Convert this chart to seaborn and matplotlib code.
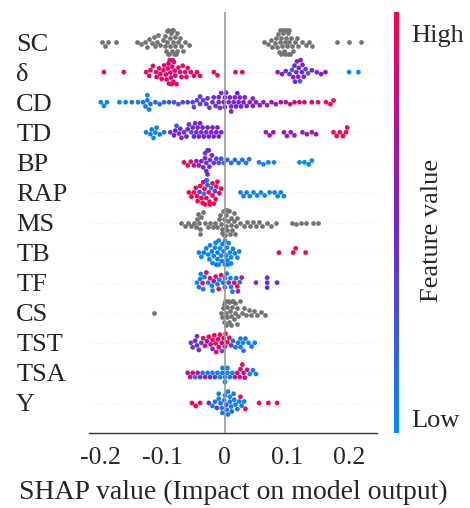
import numpy as np
import pandas as pd
import seaborn as sns
import matplotlib
matplotlib.use("Agg")
import matplotlib.pyplot as plt
from matplotlib.colors import LinearSegmentedColormap, Normalize
from matplotlib.cm import ScalarMappable

# ---------------- data ----------------
features = ["SC", "δ", "CD", "TD", "BP", "RAP", "MS", "TB", "TF", "CS", "TST", "TSA", "Y"]

sc_shap = [-0.198, -0.193, -0.188, -0.176,
           -0.142, -0.135, -0.128, -0.122, -0.118, -0.112, -0.108, -0.104, -0.100, -0.097,
           -0.095, -0.093, -0.091, -0.089, -0.087, -0.085, -0.083, -0.081, -0.079, -0.077,
           -0.075, -0.072, -0.068, -0.064, -0.058,
           -0.096, -0.092, -0.088, -0.084, -0.080, -0.086, -0.090, -0.094, -0.082, -0.078,
           -0.070, -0.110, -0.115, -0.125,
           0.063, 0.070, 0.076, 0.080, 0.084, 0.087, 0.089, 0.091, 0.093, 0.095, 0.097,
           0.099, 0.101, 0.103, 0.105, 0.107, 0.110, 0.113, 0.118, 0.124, 0.130, 0.136, 0.140,
           0.088, 0.092, 0.096, 0.100, 0.104, 0.094, 0.090, 0.098, 0.102, 0.086, 0.082,
           0.074, 0.108, 0.116,
           0.180, 0.200, 0.220]

delta_shap = [-0.195, -0.163,
              -0.127, -0.122, -0.116, -0.111, -0.106, -0.102, -0.098, -0.095, -0.092, -0.090,
              -0.088, -0.086, -0.084, -0.082, -0.080, -0.078, -0.075, -0.072, -0.068, -0.064,
              -0.060, -0.055, -0.050, -0.045, -0.040,
              -0.094, -0.089, -0.087, -0.085, -0.083, -0.091, -0.081, -0.099, -0.104, -0.110,
              -0.120, -0.070, -0.062,
              -0.018, -0.012, 0.017, 0.028,
              0.085, 0.092, 0.098, 0.104, 0.108, 0.112, 0.115, 0.118, 0.121, 0.124, 0.127,
              0.130, 0.134, 0.140, 0.148, 0.155, 0.162,
              0.116, 0.119, 0.122, 0.113, 0.125, 0.110,
              0.200, 0.215]
delta_fv = [1.0, 1.0,
            0.95, 0.9, 0.95, 0.9, 0.85, 0.95, 0.9, 0.85, 0.95, 0.9,
            0.85, 0.95, 0.9, 0.85, 0.95, 0.9, 0.95, 0.85, 0.9, 0.95,
            0.9, 0.95, 0.9, 0.95, 0.9,
            0.9, 0.95, 0.85, 0.9, 0.95, 0.85, 0.9, 0.95, 0.9, 0.85,
            0.95, 0.9, 0.95,
            1.0, 1.0, 1.0, 1.0,
            0.6, 0.5, 0.45, 0.4, 0.2, 0.5, 0.45, 0.6, 0.2, 0.45, 0.5,
            0.4, 0.2, 0.5, 0.45, 0.55, 0.5,
            0.5, 0.45, 0.55, 0.5, 0.45, 0.5,
            0.0, 0.0]

cd_shap = [-0.200, -0.195, -0.190,
           -0.170, -0.160, -0.150, -0.140, -0.132, -0.128, -0.125, -0.125, -0.122, -0.120,
           -0.112, -0.105, -0.098, -0.090, -0.082, -0.075, -0.068, -0.060, -0.052, -0.050,
           -0.045, -0.040, -0.040, -0.035, -0.030, -0.028, -0.025, -0.020, -0.018, -0.015,
           -0.010, -0.008, -0.006, -0.002, 0.000, 0.002, 0.006, 0.008, 0.010, 0.014, 0.016,
           0.018, 0.022, 0.024, 0.026, 0.030, 0.032, 0.035, 0.040, 0.045, 0.045, 0.050,
           0.056, 0.062, 0.068, 0.075, 0.082, 0.090, 0.098, 0.105, 0.112, 0.120, 0.128,
           0.140, 0.150, 0.163, 0.170, 0.175,
           0.000, 0.010, 0.020, -0.010]
cd_fv = [0.0, 0.0, 0.02,
         0.05, 0.05, 0.1, 0.05, 0.1, 0.1, 0.05, 0.05, 0.1, 0.15,
         0.15, 0.2, 0.2, 0.25, 0.25, 0.3, 0.3, 0.35, 0.35, 0.35,
         0.35, 0.4, 0.38, 0.4, 0.4, 0.4, 0.4, 0.42, 0.45, 0.42,
         0.45, 0.45, 0.45, 0.45, 0.5, 0.45, 0.48, 0.5, 0.48, 0.48, 0.5,
         0.5, 0.5, 0.5, 0.5, 0.5, 0.55, 0.52, 0.52, 0.55, 0.55, 0.55,
         0.55, 0.6, 0.6, 0.6, 0.65, 0.7, 0.7, 0.75, 0.8, 0.8, 0.85,
         0.9, 0.95, 1.0, 1.0, 1.0,
         0.5, 0.5, 0.5, 0.45]

td_shap = [-0.127, -0.120, -0.115, -0.110, -0.105, -0.098, -0.118, -0.112,
           -0.088, -0.082, -0.078, -0.074, -0.070, -0.066, -0.062, -0.058, -0.054, -0.050,
           -0.046, -0.042, -0.038, -0.034, -0.030, -0.026, -0.022, -0.018, -0.014, -0.010,
           -0.006,
           -0.080, -0.072, -0.060, -0.052, -0.044, -0.036, -0.028, -0.020, -0.012, -0.048,
           -0.040,
           0.066, 0.072, 0.078, 0.095, 0.100, 0.106, 0.112, 0.125, 0.132, 0.140, 0.147,
           0.175, 0.180, 0.185, 0.190, 0.195, 0.197]
td_fv = [0.05, 0.05, 0.0, 0.05, 0.1, 0.1, 0.05, 0.05,
         0.45, 0.5, 0.2, 0.45, 0.55, 0.4, 0.5, 0.45, 0.2, 0.5,
         0.45, 0.55, 0.4, 0.5, 0.45, 0.5, 0.55, 0.45, 0.5, 0.45,
         0.5,
         0.5, 0.45, 0.5, 0.55, 0.5, 0.45, 0.5, 0.55, 0.5, 0.45,
         0.5,
         0.65, 0.65, 0.65, 0.6, 0.6, 0.6, 0.6, 0.55, 0.65, 0.7, 0.6,
         1.0, 1.0, 1.0, 1.0, 1.0, 1.0]

bp_shap = [-0.066, -0.060, -0.055,
           -0.050, -0.046, -0.042, -0.038, -0.035, -0.032, -0.030, -0.028, -0.026, -0.024,
           -0.021, -0.018, -0.014, -0.010, -0.006,
           -0.030, -0.028, -0.025, -0.032,
           -0.002, 0.004, 0.010, 0.016, 0.022, 0.028, 0.034, 0.039,
           0.055, 0.062, 0.070, 0.079,
           0.120, 0.128, 0.135, 0.140]
bp_fv = [1.0, 1.0, 0.95,
         0.7, 0.6, 0.55, 0.5, 0.45, 0.45, 0.4, 0.45, 0.5, 0.4,
         0.45, 0.4, 0.35, 0.3, 0.3,
         0.45, 0.5, 0.45, 0.4,
         0.2, 0.2, 0.15, 0.2, 0.1, 0.15, 0.1, 0.1,
         0.05, 0.05, 0.05, 0.0,
         0.0, 0.0, 0.0, 0.0]

rap_shap = [-0.058, -0.054, -0.050, -0.047, -0.044, -0.041, -0.038, -0.036, -0.034, -0.032,
            -0.030, -0.028, -0.026, -0.024, -0.022, -0.020, -0.018, -0.016, -0.014, -0.012,
            -0.009, -0.006,
            -0.040, -0.035, -0.030, -0.025, -0.020, -0.015, -0.045, -0.029, -0.033,
            0.025, 0.030, 0.035, 0.040, 0.046, 0.052, 0.058, 0.064, 0.072, 0.080, 0.085,
            0.090, 0.095]
rap_fv = [1.0, 0.95, 1.0, 0.95, 1.0, 0.3, 1.0, 0.95, 0.1, 1.0,
          0.95, 0.3, 1.0, 0.95, 0.1, 1.0, 0.95, 0.35, 1.0, 0.95,
          1.0, 0.95,
          1.0, 0.95, 0.3, 1.0, 0.95, 1.0, 0.95, 0.1, 1.0,
          0.05, 0.05, 0.05, 0.05, 0.05, 0.05, 0.05, 0.05, 0.05, 0.05, 0.05,
          0.05, 0.05]

ms_shap = [-0.070, -0.065, -0.060, -0.055, -0.050, -0.047, -0.045, -0.042, -0.040, -0.038,
           -0.036, -0.032, -0.028, -0.024, -0.020, -0.016, -0.012, -0.010, -0.008, -0.006,
           -0.004, -0.002, -0.001, 0.000, 0.001, 0.002, 0.004, 0.006, 0.008, 0.010, 0.012,
           0.014, 0.016, 0.018, 0.020, 0.024, 0.030, 0.035, 0.040, 0.045, 0.050, 0.055,
           -0.005, 0.000, 0.005, 0.010, 0.003, -0.003, -0.044, -0.040, 0.015,
           0.060, 0.068, 0.074, 0.082, 0.108, 0.115, 0.122, 0.130, 0.142, 0.150]

tb_shap = [-0.042, -0.038, -0.034, -0.030, -0.027, -0.024, -0.021, -0.018, -0.016, -0.014,
           -0.012, -0.010, -0.008, -0.006, -0.004, -0.002, 0.000, 0.002, 0.004, 0.006,
           0.008, 0.010, 0.013, 0.016, 0.020, 0.023,
           -0.020, -0.015, -0.010, -0.005, 0.000, 0.005, -0.025, -0.012, 0.003, 0.010,
           0.087, 0.110, 0.114, 0.130]
tb_fv = [0.05, 0.0, 0.1, 0.05, 0.0, 0.05, 0.1, 0.05, 0.0, 0.05,
         0.1, 0.05, 0.0, 0.05, 0.1, 0.05, 0.0, 0.05, 0.1, 0.05,
         0.0, 0.05, 0.1, 0.05, 0.0, 0.05,
         0.05, 0.0, 0.05, 0.1, 0.05, 0.0, 0.05, 0.1, 0.05, 0.0,
         1.0, 1.0, 1.0, 1.0]

tf_shap = [-0.045, -0.042, -0.039, -0.036, -0.033, -0.030, -0.027, -0.024, -0.021, -0.018,
           -0.015, -0.012, -0.009, -0.006, -0.003, 0.000, 0.003, 0.006, 0.009, 0.012,
           0.015, 0.018, 0.021, 0.024, 0.027,
           -0.040, -0.035, -0.020, -0.010, 0.000, 0.010, 0.020,
           0.050, 0.068, 0.068, 0.068, 0.084]
tf_fv = [0.05, 0.1, 0.05, 1.0, 0.1, 0.95, 0.1, 1.0, 0.05, 0.5,
         0.95, 0.1, 0.05, 0.9, 0.1, 0.05, 0.1, 0.4, 0.05, 0.1,
         0.95, 0.15, 0.5, 0.1, 0.9,
         0.05, 0.1, 0.05, 0.95, 0.1, 0.05, 0.95,
         0.45, 0.45, 0.45, 0.45, 0.45]

cs_shap = [-0.115,
           -0.007, -0.005, -0.003, -0.001, 0.001, 0.003, 0.005, 0.007, 0.009, 0.011, 0.013,
           0.015, 0.017, 0.019, 0.021, 0.024, 0.027, 0.030, 0.034, 0.038, 0.042, 0.047,
           0.000, 0.004, 0.008, 0.012, 0.016, 0.002, 0.006, 0.010, -0.002, 0.020,
           0.052, 0.058, 0.064]

tst_shap = [-0.055, -0.052, -0.048, -0.045, -0.042, -0.038, -0.035, -0.032, -0.029, -0.026,
            -0.023, -0.020, -0.017, -0.014, -0.011, -0.008, -0.005, -0.002, 0.001, 0.004,
            0.007, 0.010, 0.013, 0.017, 0.021, 0.025, 0.029, 0.033, 0.038, 0.043, 0.048,
            -0.020, -0.015, -0.010, -0.005, 0.000, 0.025, 0.030, -0.045]
tst_fv = [0.4, 0.4, 0.45, 0.4, 0.45, 0.35, 0.95, 0.9, 0.5, 1.0,
          0.9, 0.4, 1.0, 0.95, 0.9, 1.0, 0.3, 0.95, 0.9, 1.0,
          0.95, 0.4, 0.1, 0.1, 0.15, 0.1, 0.05, 0.1, 0.05, 0.1, 0.05,
          0.95, 1.0, 0.95, 0.9, 0.95, 0.1, 0.1, 0.4]

tsa_shap = [-0.060, -0.056, -0.052, -0.048, -0.044, -0.040, -0.036, -0.032, -0.028, -0.024,
            -0.020, -0.016, -0.012, -0.008, -0.004, 0.000, 0.004, 0.008, 0.012, 0.016,
            0.020, 0.024, 0.028, 0.032, 0.036, 0.040, 0.045, 0.050,
            0.000, 0.004, -0.004, 0.025, 0.030]
tsa_fv = [0.8, 0.8, 0.75, 0.1, 0.8, 0.4, 0.1, 0.75, 0.1, 0.45,
          0.05, 0.4, 0.1, 0.05, 0.1, 0.05, 0.05, 0.1, 0.05, 0.75,
          0.9, 0.8, 0.95, 0.8, 0.9, 0.05, 0.1, 0.05,
          0.05, 0.05, 0.05, 0.85, 0.85]

y_shap = [-0.053, -0.047, -0.040, -0.026,
          -0.020, -0.016, -0.013, -0.010, -0.007, -0.004, -0.001, 0.002, 0.005, 0.008,
          0.011, 0.014, 0.017, 0.020, 0.023, 0.027, 0.031,
          -0.005, 0.000, 0.005, 0.010, 0.015, -0.010, 0.003, 0.008,
          0.025, 0.033, 0.055, 0.070, 0.084]
y_fv = [1.0, 1.0, 1.0, 0.45,
        0.05, 0.1, 0.4, 0.05, 0.15, 0.1, 0.05, 0.4, 0.1, 0.05,
        0.15, 0.1, 0.05, 0.1, 0.05, 0.1, 0.05,
        0.05, 0.05, 0.05, 0.05, 0.05, 0.05, 0.05, 0.05,
        1.0, 1.0, 1.0, 1.0, 1.0]

gray_features = {"SC": sc_shap, "MS": ms_shap, "CS": cs_shap}
color_features = {"δ": (delta_shap, delta_fv), "CD": (cd_shap, cd_fv), "TD": (td_shap, td_fv),
                  "BP": (bp_shap, bp_fv), "RAP": (rap_shap, rap_fv), "TB": (tb_shap, tb_fv),
                  "TF": (tf_shap, tf_fv), "TST": (tst_shap, tst_fv), "TSA": (tsa_shap, tsa_fv),
                  "Y": (y_shap, y_fv)}

gray_df = pd.DataFrame([(f, v) for f, vals in gray_features.items() for v in vals],
                       columns=["feature", "shap"])
color_df = pd.DataFrame([(f, v, c) for f, (vals, cols) in color_features.items()
                         for v, c in zip(vals, cols)],
                        columns=["feature", "shap", "fv"])

# ---------------- style ----------------
sns.set_style("white")
plt.rcParams["font.family"] = ["Liberation Serif", "DejaVu Serif"]

cmap = LinearSegmentedColormap.from_list("shap_rb", ["#008bfb", "#7a1fd6", "#ff0052"])

fig = plt.figure(figsize=(4.70, 5.08), dpi=100)
ax = fig.add_axes([89 / 470, 75 / 508, 288 / 470, 421 / 508])

for i in range(len(features)):
    ax.axhline(i, color="#e4e4e4", lw=0.6, ls=(0, (1, 3)), zorder=0)

sns.swarmplot(data=gray_df, x="shap", y="feature", order=features, orient="h",
              color="#737373", size=3.4, linewidth=0, ax=ax, warn_thresh=1.0, zorder=3)
sns.swarmplot(data=color_df, x="shap", y="feature", order=features, orient="h",
              hue="fv", palette=cmap, hue_norm=(0, 1), legend=False,
              size=3.4, linewidth=0, ax=ax, warn_thresh=1.0, zorder=3)
ax.axvline(0, color="#999999", lw=1.2, zorder=4)

ax.set_xlim(-0.219, 0.245)
ax.set_ylim(len(features), -1)
ax.set_xticks([-0.2, -0.1, 0, 0.1, 0.2])
ax.set_xticklabels(["-0.2", "-0.1", "0", "0.1", "0.2"])
ax.set_xlabel("SHAP value (Impact on model output)", fontsize=20, labelpad=8)
ax.set_ylabel("")
for s in ["top", "right", "left"]:
    ax.spines[s].set_visible(False)
ax.spines["bottom"].set_color("#333333")
ax.spines["bottom"].set_linewidth(1.0)
ax.tick_params(axis="x", length=4, width=0.8, color="#333333", labelsize=18.5, pad=6)
ax.tick_params(axis="y", length=0, pad=52.5, labelsize=19)
for lab in ax.get_yticklabels():
    lab.set_horizontalalignment("left")

# colorbar
cax = fig.add_axes([394 / 470, 75 / 508, 5 / 470, 421 / 508])
sm = ScalarMappable(norm=Normalize(0, 1), cmap=cmap)
cb = fig.colorbar(sm, cax=cax)
cb.outline.set_visible(False)
cb.set_ticks([])
fig.text(411 / 470, 1 - 36 / 508, "High", fontsize=19, va="center", ha="left")
fig.text(411 / 470, 1 - 421 / 508, "Low", fontsize=19, va="center", ha="left")
fig.text(432 / 470, 1 - 230 / 508, "Feature value", fontsize=19, va="center", ha="center",
         rotation=90)

fig.savefig("out.png", dpi=100)
